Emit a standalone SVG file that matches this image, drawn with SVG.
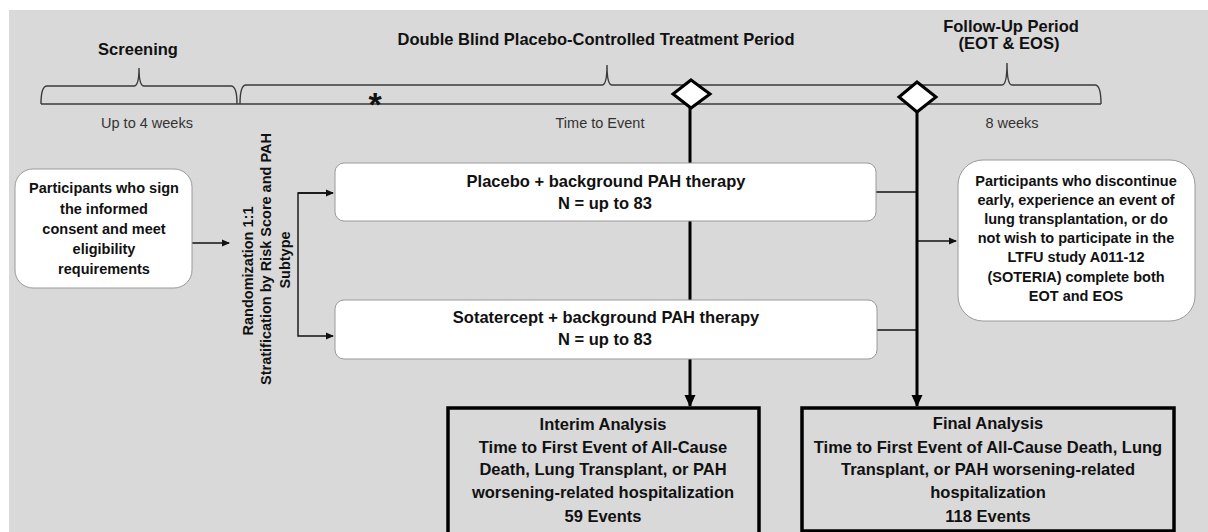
<svg xmlns="http://www.w3.org/2000/svg" width="1208" height="532" viewBox="0 0 1208 532">
<defs>
<style>
text{font-family:"Liberation Sans",Arial,sans-serif;fill:#111;}
.b{font-weight:bold;}
.c{text-anchor:middle;}
.hdr{font-size:16.5px;font-weight:bold;text-anchor:middle;}
.sub{font-size:14.5px;text-anchor:middle;fill:#333;}
.t145{font-size:14.5px;font-weight:bold;text-anchor:middle;}
.t165{font-size:16.5px;font-weight:bold;text-anchor:middle;}
.brace{fill:none;stroke:#3a3a3a;stroke-width:1.4;}
.thin{fill:none;stroke:#111;stroke-width:1.4;}
.thick{fill:none;stroke:#000;stroke-width:3;}
.rbox{fill:#fff;stroke:#9a9a9a;stroke-width:1;}
.abox{fill:#d9d9d9;stroke:#000;stroke-width:3.5;}
.dia{fill:#fff;stroke:#000;stroke-width:3;}
</style>
<marker id="ah" markerWidth="8" markerHeight="8" refX="7" refY="4" orient="auto" markerUnits="userSpaceOnUse">
<path d="M0,0.5 L8,4 L0,7.5 Z" fill="#111"/>
</marker>
<marker id="ahb" markerWidth="12" markerHeight="12" refX="11" refY="6" orient="auto" markerUnits="userSpaceOnUse">
<path d="M0,0.5 L12,6 L0,11.5 Z" fill="#000"/>
</marker>
</defs>
<rect x="9" y="10" width="1199" height="522" fill="#d9d9d9"/>

<g id="timeline">
<path class="brace" d="M41,104 L1101,104"/>
<path class="brace" d="M41,104 Q41,86 47,86 L134,86 Q139,86 139,68 Q139,86 144,86 L231,86 Q237,86 237,104"/>
<path class="brace" d="M240,104 Q240,85 246,85 L602,85 Q607,85 607,65 Q607,85 612,85 L1002,85 Q1007,85 1007,63 Q1007,85 1012,85 L1095,85 Q1101,85 1101,104"/>
<text class="hdr" x="138" y="55">Screening</text>
<text class="hdr" x="596" y="45">Double Blind Placebo-Controlled Treatment Period</text>
<text class="hdr" x="1011" y="32">Follow-Up Period</text>
<text class="hdr" x="1009" y="49">(EOT &amp; EOS)</text>
<text class="sub" x="147" y="128">Up to 4 weeks</text>
<text class="sub" x="600" y="128">Time to Event</text>
<text class="sub" x="1012" y="128">8 weeks</text>
<text class="b c" x="375" y="116" font-size="34">*</text>
</g>

<g id="connectors">
<path class="thin" d="M192,243 L229,243" marker-end="url(#ah)"/>
<path class="thin" d="M333,193 L298,193 L298,336 L333,336" marker-end="url(#ah)"/>
<path class="thin" d="M298,193 L333,193" marker-end="url(#ah)"/>
<path class="thin" d="M876,192 L917,192"/>
<path class="thin" d="M877,330 L917,330"/>
<path class="thin" d="M917,241 L956,241" marker-end="url(#ah)"/>
<path class="thick" d="M690,108 L690,406" marker-end="url(#ahb)"/>
<path class="thick" d="M917,112 L917,406" marker-end="url(#ahb)"/>
</g>

<g id="diamond-interim">
<path class="dia" d="M691,80 L710,94 L691,108 L673,94 Z"/>
</g>
<g id="diamond-final">
<path class="dia" d="M917,82 L936,97 L917,112 L899,97 Z"/>
</g>

<g id="participants">
<rect class="rbox" x="15" y="169" width="177" height="119" rx="18"/>
<text class="t145" x="104" y="193">Participants who sign</text>
<text class="t145" x="104" y="214">the informed</text>
<text class="t145" x="104" y="234">consent and meet</text>
<text class="t145" x="104" y="254">eligibility</text>
<text class="t145" x="104" y="274">requirements</text>
</g>

<g id="randomization">
<text class="t145" transform="translate(253,271) rotate(-90)">Randomization 1:1</text>
<text class="t145" transform="translate(271,259) rotate(-90)">Stratification by Risk Score and PAH</text>
<text class="t145" transform="translate(290,260) rotate(-90)">Subtype</text>
</g>

<g id="placebo">
<rect class="rbox" x="335" y="163" width="541" height="58" rx="9"/>
<text class="t165" x="606" y="187">Placebo + background PAH therapy</text>
<text class="t165" x="605" y="209">N = up to 83</text>
</g>

<g id="sotatercept">
<rect class="rbox" x="335" y="300" width="542" height="59" rx="9"/>
<text class="t165" x="606" y="323">Sotatercept + background PAH therapy</text>
<text class="t165" x="605" y="345">N = up to 83</text>
</g>

<g id="discontinue">
<rect class="rbox" x="958" y="160" width="237" height="161" rx="25"/>
<text class="t145" x="1076" y="186">Participants who discontinue</text>
<text class="t145" x="1076" y="205">early, experience an event of</text>
<text class="t145" x="1076" y="224">lung transplantation, or do</text>
<text class="t145" x="1076" y="243">not wish to participate in the</text>
<text class="t145" x="1076" y="262">LTFU study A011-12</text>
<text class="t145" x="1076" y="282">(SOTERIA) complete both</text>
<text class="t145" x="1076" y="301">EOT and EOS</text>
</g>

<g id="interim">
<rect class="abox" x="448" y="408" width="311" height="130"/>
<text class="t165" x="603" y="430">Interim Analysis</text>
<text class="t165" x="603" y="453">Time to First Event of All-Cause</text>
<text class="t165" x="603" y="475">Death, Lung Transplant, or PAH</text>
<text class="t165" x="603" y="498">worsening-related hospitalization</text>
<text class="t165" x="603" y="522">59 Events</text>
</g>

<g id="final">
<rect class="abox" x="802" y="408" width="372" height="123"/>
<text class="t165" x="988" y="429">Final Analysis</text>
<text class="t165" x="988" y="453">Time to First Event of All-Cause Death, Lung</text>
<text class="t165" x="988" y="475">Transplant, or PAH worsening-related</text>
<text class="t165" x="988" y="498">hospitalization</text>
<text class="t165" x="988" y="522">118 Events</text>
</g>
</svg>
